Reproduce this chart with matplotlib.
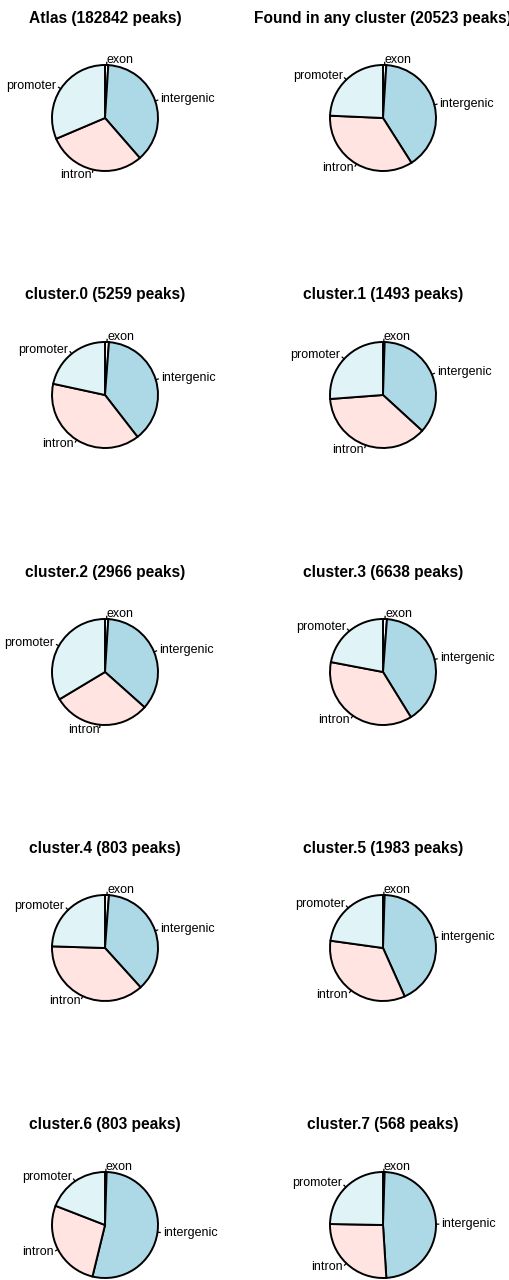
import matplotlib
matplotlib.use("Agg")
import matplotlib.pyplot as plt
import numpy as np

plt.rcParams["font.family"] = ["Liberation Sans", "DejaVu Sans"]

# Genomic annotation categories and their pie colours
categories = ["exon", "intergenic", "intron", "promoter"]
colors = ["white", "#ADD8E6", "#FFE4E1", "#E0F4F8"]

# Percent of peaks in each category
atlas = [1.0, 37.6, 30.0, 31.4]
any_cluster = [1.0, 40.0, 34.7, 24.3]
cluster0 = [1.2, 38.3, 38.9, 21.6]
cluster1 = [0.5, 36.3, 37.0, 26.2]
cluster2 = [1.0, 35.6, 29.8, 33.6]
cluster3 = [1.2, 40.0, 36.8, 22.0]
cluster4 = [1.2, 37.1, 37.2, 24.5]
cluster5 = [0.5, 42.8, 33.9, 22.8]
cluster6 = [0.5, 53.3, 27.1, 19.1]
cluster7 = [0.5, 48.5, 26.3, 24.7]

panel_names = ["Atlas", "Found in any cluster", "cluster.0", "cluster.1",
               "cluster.2", "cluster.3", "cluster.4", "cluster.5",
               "cluster.6", "cluster.7"]
peak_counts = [182842, 20523, 5259, 1493, 2966, 6638, 803, 1983, 803, 568]
panel_values = [atlas, any_cluster, cluster0, cluster1, cluster2, cluster3,
                cluster4, cluster5, cluster6, cluster7]

FIG_W, FIG_H = 510, 1280
fig = plt.figure(figsize=(FIG_W / 100, FIG_H / 100), dpi=100)

col_x = [105, 383]
row_y = [118, 395, 672, 948, 1225]
radius_px = 53
box_px = 220
lim = box_px / (2 * radius_px)

for i, (name, n, vals) in enumerate(zip(panel_names, peak_counts, panel_values)):
    cx = col_x[i % 2]
    cy = row_y[i // 2]
    ax = fig.add_axes([(cx - box_px / 2) / FIG_W,
                       1 - (cy + box_px / 2) / FIG_H,
                       box_px / FIG_W, box_px / FIG_H])
    wedges, texts = ax.pie(
        vals, labels=categories, colors=colors, startangle=90,
        counterclock=False, radius=1, labeldistance=1.1,
        wedgeprops=dict(edgecolor="black", linewidth=1.4),
        textprops=dict(fontsize=9, color="black"),
    )
    for w in wedges:
        mid = np.deg2rad((w.theta1 + w.theta2) / 2)
        ax.plot([np.cos(mid), 1.05 * np.cos(mid)],
                [np.sin(mid), 1.05 * np.sin(mid)],
                color="black", linewidth=0.9)
    ax.set_xlim(-lim, lim)
    ax.set_ylim(-lim, lim)
    ax.set_aspect("equal")
    ax.axis("off")
    fig.text(cx / FIG_W, 1 - (cy - 100) / FIG_H, f"{name} ({n} peaks)",
             ha="center", va="center", fontsize=11.2, fontweight="bold",
             color="black")

fig.savefig("out.png", dpi=100, facecolor="white")
